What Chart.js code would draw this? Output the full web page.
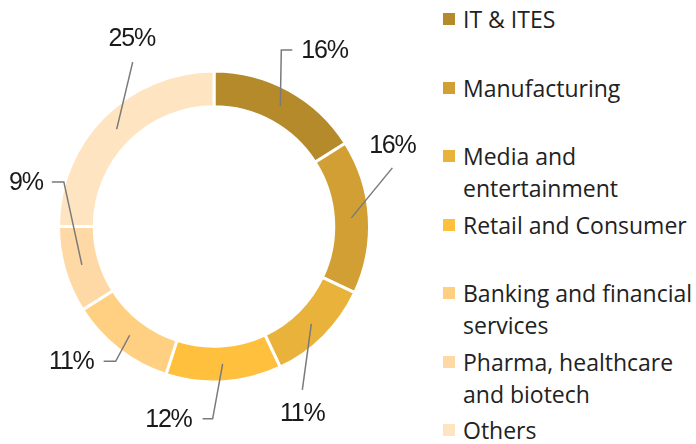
<!DOCTYPE html>
<html>
<head>
<meta charset="utf-8">
<script src="https://cdn.jsdelivr.net/npm/chart.js@4"></script>
<style>
    html, body { margin: 0; padding: 0; background: #fff; }
    #wrap { position: relative; width: 696px; height: 444px; overflow: hidden; }
    #chartBox { position: absolute; left: 0; top: 0; width: 430px; height: 444px; }
    #legend { position: absolute; left: 443px; top: 3px; width: 253px; font-family: "Open Sans", sans-serif; font-size: 23px; color: #222; }
    .item { position: relative; height: 68.5px; padding-left: 20px; }
    .item .sw { position: absolute; left: 0; top: 10px; width: 12px; height: 12px; }
    .item .txt { line-height: 32px; white-space: nowrap; }
</style>
</head>
<body>
<div id="wrap">
    <div id="chartBox"><canvas id="c"></canvas></div>
    <div id="legend"></div>
</div>
<script>
const SECTORS = [
    'IT & ITES',
    'Manufacturing',
    ['Media and', 'entertainment'],
    'Retail and Consumer',
    ['Banking and financial', 'services'],
    ['Pharma, healthcare', 'and biotech'],
    'Others'
];
const SHARES = [16, 16, 11, 12, 11, 9, 25];
const COLORS = ['#b58a2b', '#d29f34', '#e9b23a', '#ffc03e', '#ffcf82', '#ffd9a5', '#ffe4c2'];

// leader line placement for each label: line end offset from arc middle, elbow, text offset
const LEADERS = [
    { dx: 1, dy: -56, elbow: 11, tx: 9, ty: 1, align: 'left' },
    { dx: 41, dy: -50, elbow: 0, tx: 0, ty: -22, align: 'center' },
    { dx: -9, dy: 66, elbow: 0, tx: 0, ty: 24, align: 'center' },
    { dx: -10, dy: 55, elbow: -10, tx: -11, ty: 1, align: 'right' },
    { dx: -14, dy: 26, elbow: -12, tx: -10, ty: 1, align: 'right' },
    { dx: -18, dy: -83, elbow: -12, tx: -9, ty: 1, align: 'right' },
    { dx: 16, dy: -67, elbow: 0, tx: -1, ty: -23, align: 'center' }
];

const leaderLabels = {
    id: 'leaderLabels',
    afterDatasetsDraw(chart) {
        const ctx = chart.ctx;
        const meta = chart.getDatasetMeta(0);
        meta.data.forEach((arc, i) => {
            const p = arc.getProps(['x', 'y', 'startAngle', 'endAngle', 'innerRadius', 'outerRadius'], true);
            const mid = (p.startAngle + p.endAngle) / 2, r = (p.innerRadius + p.outerRadius) / 2;
            const ax = p.x + Math.cos(mid) * r, ay = p.y + Math.sin(mid) * r;
            const L = LEADERS[i];
            const ex = ax + L.dx, ey = ay + L.dy;
            ctx.save();
            ctx.strokeStyle = '#7a7a7a';
            ctx.lineWidth = 1.5;
            ctx.beginPath();
            ctx.moveTo(ax, ay);
            ctx.lineTo(ex, ey);
            if (L.elbow) ctx.lineTo(ex + L.elbow, ey);
            ctx.stroke();
            ctx.fillStyle = '#1a1a1a';
            ctx.font = '25px "Liberation Sans", Arial, sans-serif';
            ctx.letterSpacing = '-1.2px';
            ctx.textAlign = L.align;
            ctx.textBaseline = 'middle';
            ctx.fillText(SHARES[i] + '%', ex + L.elbow + L.tx, ey + L.ty);
            ctx.restore();
        });
    }
};

new Chart(document.getElementById('c'), {
    type: 'doughnut',
    data: {
        labels: SECTORS,
        datasets: [{ data: SHARES, backgroundColor: COLORS, borderColor: '#fff', borderWidth: 3, hoverOffset: 0 }]
    },
    options: {
        responsive: true, maintainAspectRatio: false, animation: false,
        cutout: '77%',
        layout: { padding: { left: 57, right: 59, top: 69.5, bottom: 60.5 } },
        plugins: { legend: { display: false }, tooltip: { enabled: false } }
    },
    plugins: [leaderLabels]
});

const legend = document.getElementById('legend');
SECTORS.forEach((s, i) => {
    const lines = Array.isArray(s) ? s : [s];
    const item = document.createElement('div');
    item.className = 'item';
    item.innerHTML = `<span class="sw" style="background:${COLORS[i]}"></span><div class="txt">${lines.map(l => l.replace('&', '&amp;')).join('<br>')}</div>`;
    legend.appendChild(item);
});
</script>
</body>
</html>
